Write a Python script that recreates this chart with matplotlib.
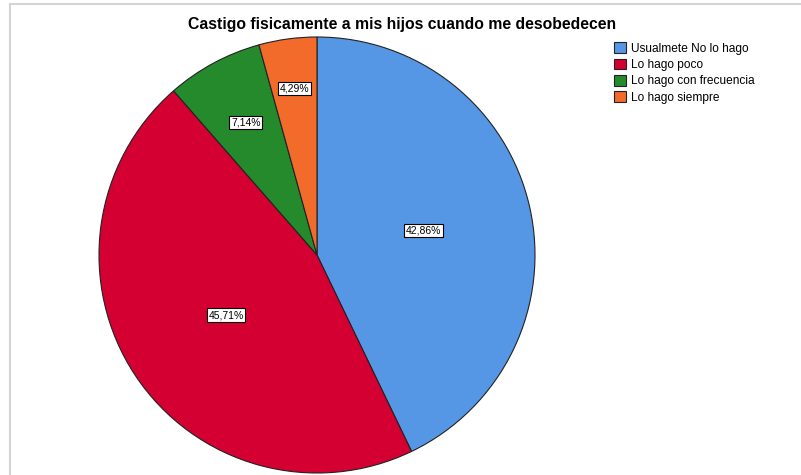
import numpy as np
import matplotlib
matplotlib.use('Agg')
import matplotlib.pyplot as plt
from matplotlib.lines import Line2D

plt.rcParams['font.family'] = ['Liberation Sans', 'DejaVu Sans']

TITLE = "Castigo fisicamente a mis hijos cuando me desobedecen"
categories = ["Usualmete No lo hago", "Lo hago poco",
              "Lo hago con frecuencia", "Lo hago siempre"]
percents = [42.86, 45.71, 7.14, 4.29]
colors = ['#5697E5', '#D40032', '#248A2C', '#F26B2B']
# how far from the centre each label sits (fraction of radius)
label_dist = [0.5, 0.5, 0.69, 0.77]

fig = plt.figure(figsize=(8.01, 4.75), dpi=100)

# pie axes: square box placed where the pie sits in the picture
ax = fig.add_axes([99 / 801, 2 / 475, 436 / 801, 436 / 475])
wedges, _ = ax.pie(percents, colors=colors, startangle=90, counterclock=False,
                   wedgeprops=dict(edgecolor='#222222', linewidth=0.8))
ax.set_xlim(-1, 1)
ax.set_ylim(-1, 1)

# percentage labels in small white boxes
for w, p, d in zip(wedges, percents, label_dist):
    ang = np.deg2rad((w.theta1 + w.theta2) / 2)
    ax.text(d * np.cos(ang), d * np.sin(ang), '{:.2f}%'.format(p).replace('.', ','),
            ha='center', va='center', fontsize=7.5,
            bbox=dict(boxstyle='square,pad=0.15', fc='white', ec='black', lw=0.8))

fig.text(402 / 801, 1 - 25 / 475, TITLE, ha='center', va='center',
         fontsize=11.3, fontweight='bold')

fig.legend(wedges, categories, loc='upper left', bbox_to_anchor=(612 / 801, 1 - 40 / 475),
           frameon=False, fontsize=8.6, handlelength=1.0, handleheight=1.0,
           labelspacing=0.32, handletextpad=0.35, borderpad=0.2, borderaxespad=0)

# light grey frame on top and left
fig.add_artist(Line2D([10 / 801, 1], [1 - 4 / 475, 1 - 4 / 475], color='#d4d4d4', lw=1.5))
fig.add_artist(Line2D([10 / 801, 10 / 801], [0, 1 - 4 / 475], color='#d4d4d4', lw=1.5))

fig.savefig('out.png', dpi=100)
